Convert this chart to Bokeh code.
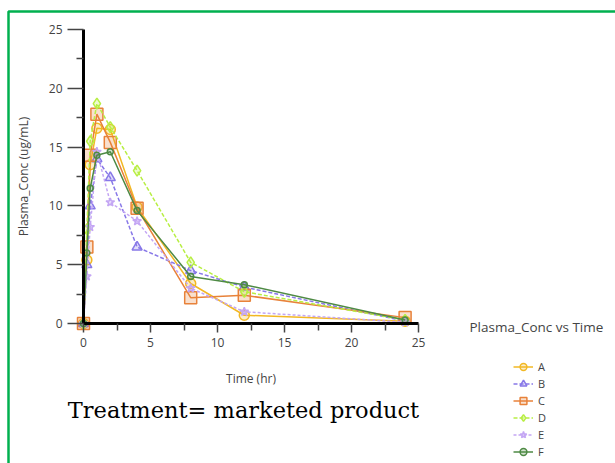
from bokeh.plotting import figure
from bokeh.models import (Range1d, FixedTicker, Legend, LegendItem, Label,
                          BoxAnnotation)
from bokeh.embed import file_html
from bokeh.resources import INLINE

# Plasma concentration (ug/mL) per subject over time (hr)
time_hr = [0, 0.25, 0.5, 1, 2, 4, 8, 12, 24]
conc_a = [0, 5.4, 13.5, 16.6, 16.5, 9.9, 3.4, 0.7, 0.2]
conc_b = [0, 5.0, 10.0, 14.0, 12.4, 6.5, 4.5, 3.1, 0.2]
conc_c = [0, 6.5, 14.3, 17.8, 15.4, 9.8, 2.2, 2.4, 0.5]
conc_d = [0, 8.0, 15.5, 18.7, 16.7, 13.0, 5.2, 2.7, 0.3]
conc_e = [0, 4.0, 8.2, 14.6, 10.3, 8.7, 3.0, 1.0, 0.1]
conc_f = [0, 6.0, 11.5, 14.3, 14.6, 9.6, 4.0, 3.3, 0.3]

subjects = ["A", "B", "C", "D", "E", "F"]
series = [conc_a, conc_b, conc_c, conc_d, conc_e, conc_f]
colors = ["#F2B824", "#8878E8", "#E8823A", "#B8EE44", "#C4A6F4", "#4E8A44"]
markers = ["circle", "triangle", "square", "diamond", "star", "circle"]
marker_sizes = [10, 10, 12, 11, 9, 6]
dashes = ["solid", "4 2", "solid", "4 2", "3 2", "solid"]

x_ticks = [0, 5, 10, 15, 20, 25]
y_ticks = [0, 5, 10, 15, 20, 25]

W, H = 615, 463
# pixel placement of the axes box inside the canvas
X0_PX, X25_PX = 83, 418
Y0_PX, Y25_PX = 323, 29
sx = (X25_PX - X0_PX) / 25.0
sy = (Y0_PX - Y25_PX) / 25.0

p = figure(width=W, height=H, output_backend="svg", toolbar_location=None,
           x_range=Range1d(-X0_PX / sx, (W - X0_PX) / sx),
           y_range=Range1d(-(H - Y0_PX) / sy, Y0_PX / sy),
           min_border=0)
p.outline_line_color = None
p.grid.grid_line_color = None
p.background_fill_color = "white"
p.border_fill_color = "white"

for ax, ticks in ((p.xaxis[0], x_ticks), (p.yaxis[0], y_ticks)):
    ax.fixed_location = 0
    ax.bounds = (0, 25)
    ax.ticker = FixedTicker(ticks=ticks,
                            minor_ticks=[t + 2.5 for t in ticks[:-1]])
    ax.axis_line_color = "black"
    ax.axis_line_width = 3
    ax.major_tick_line_color = "#444444"
    ax.minor_tick_line_color = "#444444"
    ax.major_tick_line_width = 1.5
    ax.minor_tick_line_width = 1.5
    ax.major_tick_in = 0
    ax.minor_tick_in = 0
    ax.major_label_text_font = "Open Sans"
    ax.major_label_text_font_size = "12px"
    ax.major_label_text_color = "#444444"
    ax.axis_label_text_font = "Open Sans"
    ax.axis_label_text_font_size = "12px"
    ax.axis_label_text_font_style = "normal"
    ax.axis_label_text_color = "#444444"

p.yaxis.major_tick_out = 16
p.yaxis.minor_tick_out = 7
p.xaxis.major_tick_out = 9
p.xaxis.minor_tick_out = 7
p.yaxis.axis_label = "Plasma_Conc (ug/mL)"
p.xaxis.axis_label = "Time (hr)"
p.yaxis.axis_label_standoff = 14
p.xaxis.axis_label_standoff = 20

items = []
for name, vals, col, mk, ms, dash in zip(subjects, series, colors, markers,
                                         marker_sizes, dashes):
    ln = p.line(time_hr, vals, line_color=col, line_width=1.5, line_dash=dash)
    sc = p.scatter(time_hr, vals, marker=mk, size=ms, line_color=col,
                   line_width=1.5, fill_color=col, fill_alpha=0.25)
    items.append(LegendItem(label=name, renderers=[ln, sc]))

# screen units below are measured from the canvas bottom-left corner
legend = Legend(items=items, location=(513, H - 460), orientation="vertical",
                padding=0, margin=0, spacing=0, glyph_width=20,
                glyph_height=17, label_height=17, label_standoff=5,
                label_text_font="Open Sans", label_text_font_size="11px",
                label_text_color="#444444", border_line_color=None,
                background_fill_alpha=0)
p.add_layout(legend)

p.add_layout(Label(x=469, y=H - 326, x_units="screen", y_units="screen",
                   text="Plasma_Conc vs Time", text_font="Open Sans",
                   text_font_size="13.5px", text_color="#444444",
                   text_baseline="middle"))

p.add_layout(Label(x=243, y=H - 409, x_units="screen", y_units="screen",
                   text="Treatment= marketed product", text_font="DejaVu Serif",
                   text_font_size="22.5px", text_color="black",
                   text_align="center", text_baseline="middle",
                   background_fill_color="white", padding=12))

p.add_layout(BoxAnnotation(left=8, right=W + 20, top=H - 11, bottom=-20,
                           left_units="screen", right_units="screen",
                           top_units="screen", bottom_units="screen",
                           fill_alpha=0, line_color="#00B04F", line_alpha=1,
                           line_width=2.5))

open("out.html", "w").write(file_html(p, INLINE))
